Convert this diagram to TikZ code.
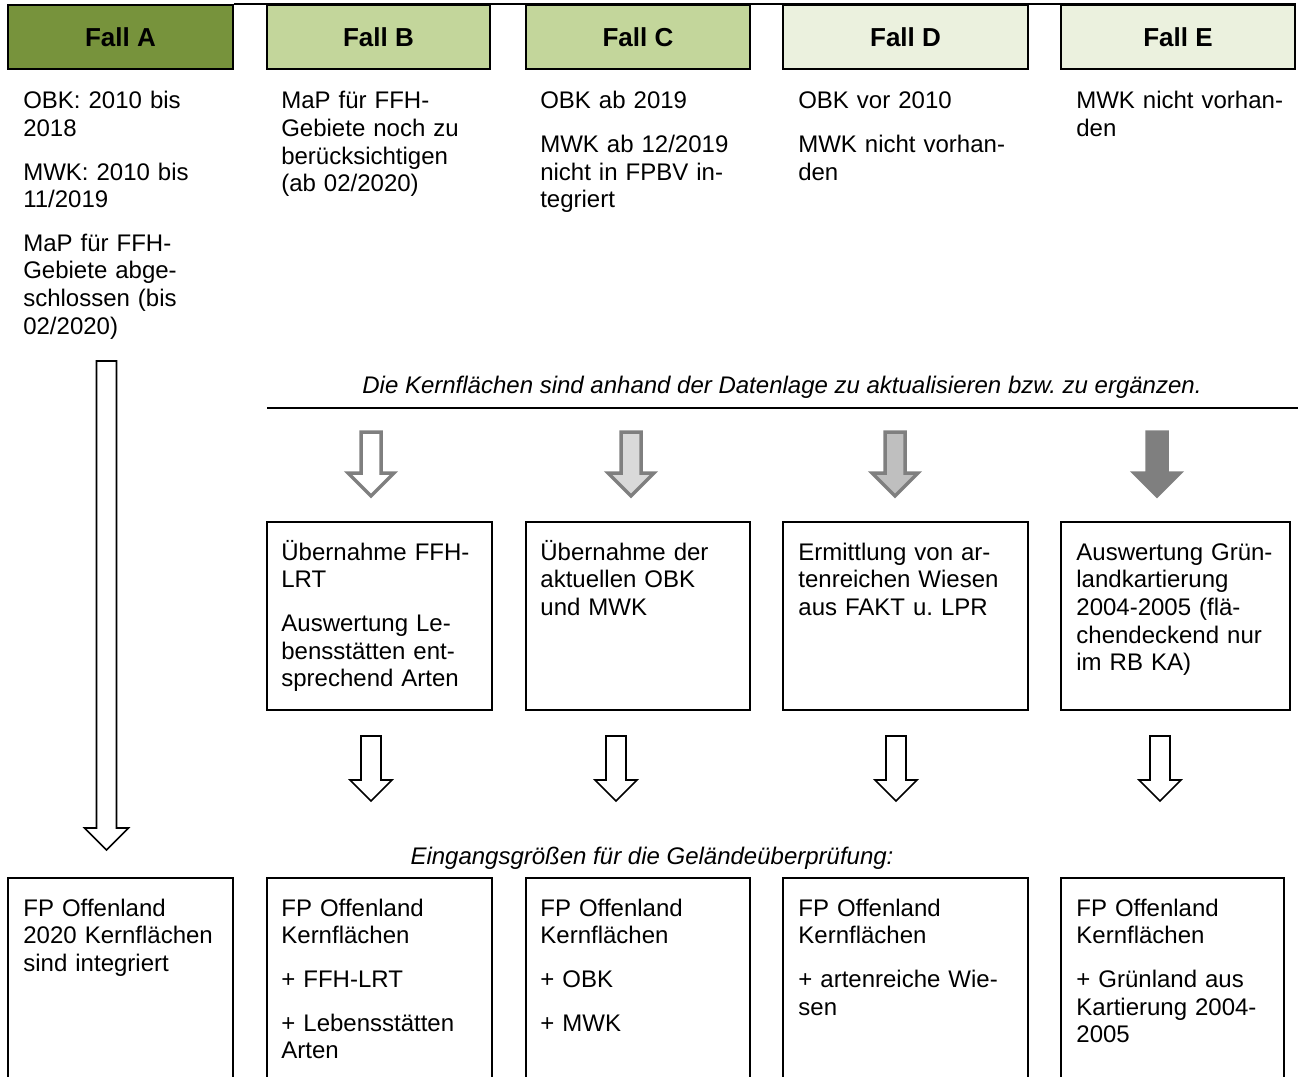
\documentclass[tikz,border=0pt]{standalone}
\usepackage{fontspec}
\setmainfont{Liberation Sans}
\frenchspacing
\definecolor{fallA}{HTML}{77933C}
\definecolor{fallBC}{HTML}{C3D69B}
\definecolor{fallDE}{HTML}{EBF1DE}
\definecolor{arrgray}{HTML}{7F7F7F}
\definecolor{arrlight}{HTML}{D9D9D9}
\definecolor{arrmid}{HTML}{BFBFBF}
\begin{document}
\begin{tikzpicture}[x=1pt,y=-1pt,
  txt/.style={anchor=base west, inner sep=0pt, text width=290pt, align=left,
    font=\fontsize{24}{27.6}\selectfont\frenchspacing},
  ital/.style={anchor=base, inner sep=0pt, font=\fontsize{24}{27.6}\selectfont\itshape\frenchspacing},
  headbox/.style={draw, line width=1.8pt, inner sep=0pt, minimum height=64pt,
    font=\fontsize{26}{29}\selectfont\bfseries},
  framebox/.style={draw, line width=1.6pt, inner sep=0pt},
  midbox/.style={framebox, minimum height=188pt},
  botbox/.style={framebox, minimum height=222pt},
  pics/bigarrow/.style={code={
    \path[pic actions] (-10,0) -- (10,0) -- (10,467) -- (22,467) -- (0,489) -- (-22,467) -- (-10,467) -- cycle;}},
  pics/grayarrow/.style={code={
    \path[pic actions] (-10,0) -- (10,0) -- (10,41) -- (23,41) -- (0,64) -- (-23,41) -- (-10,41) -- cycle;}},
  pics/blackarrow/.style={code={
    \path[pic actions] (-10,0) -- (10,0) -- (10,44) -- (21,44) -- (0,65) -- (-21,44) -- (-10,44) -- cycle;}},
  blk/.style={draw=black, fill=white, line width=1.6pt, miter limit=10},
  gry/.style={draw=arrgray, line width=3.5pt, miter limit=10},
]
\useasboundingbox (0,0) rectangle (1298,1076);
\clip (0,0) rectangle (1298,1076);

% header boxes
\node[headbox, fill=fallA,  minimum width=225pt] (ha) at (120.5,37) {Fall A};
\node[headbox, fill=fallBC, minimum width=223pt] (hb) at (378.5,37) {Fall B};
\node[headbox, fill=fallBC, minimum width=224pt] (hc) at (638,37) {Fall C};
\node[headbox, fill=fallDE, minimum width=245pt] (hd) at (905.5,37) {Fall D};
\node[headbox, fill=fallDE, minimum width=234pt] (he) at (1178,37) {Fall E};
\draw[line width=1.8pt] (ha.north east) -- (he.north east);

% top descriptions
\node[txt] (ta) at ([shift={(16,39)}]ha.south west)
  {OBK: 2010 bis\\2018\\[16pt]MWK: 2010 bis\\11/2019\\[16pt]MaP für FFH-\\Gebiete abge-\\schlossen (bis\\02/2020)};
\node[txt] (tb) at ([shift={(15,39)}]hb.south west)
  {MaP für FFH-\\Gebiete noch zu\\berücksichtigen\\(ab 02/2020)};
\node[txt] (tc) at ([shift={(15,39)}]hc.south west)
  {OBK ab 2019\\[16pt]MWK ab 12/2019\\nicht in FPBV in-\\tegriert};
\node[txt] (td) at ([shift={(16,39)}]hd.south west)
  {OBK vor 2010\\[16pt]MWK nicht vorhan-\\den};
\node[txt] (te) at ([shift={(16,39)}]he.south west)
  {MWK nicht vorhan-\\den};

% italic statement and rule
\node[ital] (kern) at (782,393) {Die Kernflächen sind anhand der Datenlage zu aktualisieren bzw. zu ergänzen.};
\draw[line width=1.6pt] (267,408) -- (1298,408);

% big arrow of Fall A
\pic[blk] at (106.5,361) {bigarrow};

% gray arrows
\pic[gry, fill=white]     at (371,432)  {grayarrow};
\pic[gry, fill=arrlight]  at (631,432)  {grayarrow};
\pic[gry, fill=arrmid]    at (895,432)  {grayarrow};
\pic[gry, fill=arrgray]   at (1157,432) {grayarrow};

% middle boxes
\node[midbox, minimum width=225pt] (mb) at (379.5,616) {};
\node[midbox, minimum width=224pt] (mc) at (638,616) {};
\node[midbox, minimum width=245pt] (md) at (905.5,616) {};
\node[midbox, minimum width=229pt] (me) at (1175.5,616) {};
\node[txt] at ([shift={(15,39)}]mb.north west)
  {Übernahme FFH-\\LRT\\[16pt]Auswertung Le-\\bensstätten ent-\\sprechend Arten};
\node[txt] at ([shift={(15,39)}]mc.north west)
  {Übernahme der\\aktuellen OBK\\und MWK};
\node[txt] at ([shift={(16,39)}]md.north west)
  {Ermittlung von ar-\\tenreichen Wiesen\\aus FAKT u. LPR};
\node[txt] at ([shift={(16,39)}]me.north west)
  {Auswertung Grün-\\landkartierung\\2004-2005 (flä-\\chendeckend nur\\im RB KA)};

% black arrows
\pic[blk] at (371,736)  {blackarrow};
\pic[blk] at (616,736)  {blackarrow};
\pic[blk] at (896,736)  {blackarrow};
\pic[blk] at (1160,736) {blackarrow};

\node[ital] (eing) at (652,864) {Eingangsgrößen für die Geländeüberprüfung:};

% bottom boxes (cut by the lower edge)
\node[botbox, minimum width=225pt] (ba) at (120.5,989) {};
\node[botbox, minimum width=225pt] (bb) at (379.5,989) {};
\node[botbox, minimum width=224pt] (bc) at (638,989) {};
\node[botbox, minimum width=245pt] (bd) at (905.5,989) {};
\node[botbox, minimum width=223pt] (be) at (1172.5,989) {};
\node[txt] at ([shift={(16,39)}]ba.north west)
  {FP Offenland\\2020 Kernflächen\\sind integriert};
\node[txt] at ([shift={(15,39)}]bb.north west)
  {FP Offenland\\Kernflächen\\[16pt]+ FFH-LRT\\[16pt]+ Lebensstätten\\Arten};
\node[txt] at ([shift={(15,39)}]bc.north west)
  {FP Offenland\\Kernflächen\\[16pt]+ OBK\\[16pt]+ MWK};
\node[txt] at ([shift={(16,39)}]bd.north west)
  {FP Offenland\\Kernflächen\\[16pt]+ artenreiche Wie-\\sen};
\node[txt] at ([shift={(16,39)}]be.north west)
  {FP Offenland\\Kernflächen\\[16pt]+ Grünland aus\\Kartierung 2004-\\2005};
\end{tikzpicture}
\end{document}
